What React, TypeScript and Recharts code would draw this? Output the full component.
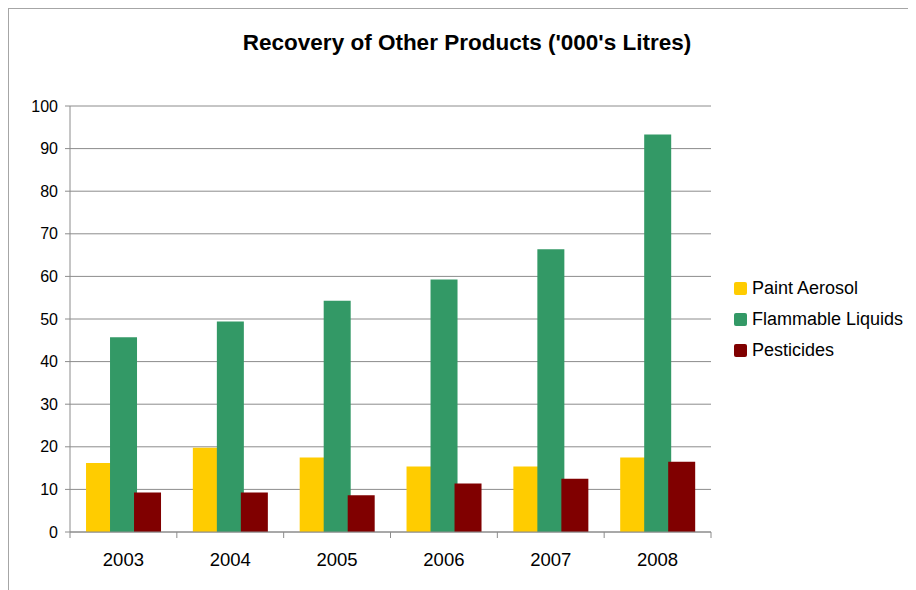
import { BarChart, Bar, XAxis, YAxis, CartesianGrid, Legend } from 'recharts';

const years = ['2003', '2004', '2005', '2006', '2007', '2008'];
const paintAerosol = [16.2, 19.8, 17.5, 15.4, 15.4, 17.5];
const flammableLiquids = [45.7, 49.4, 54.3, 59.3, 66.4, 93.3];
const pesticides = [9.3, 9.3, 8.6, 11.4, 12.5, 16.5];
const yTicks = [0, 10, 20, 30, 40, 50, 60, 70, 80, 90, 100];
const seriesOrder = ['Paint Aerosol', 'Flammable Liquids', 'Pesticides'];

const data = years.map((year, i) => ({
  year,
  paint: paintAerosol[i],
  flammable: flammableLiquids[i],
  pesticides: pesticides[i],
}));

const FONT = '"Liberation Sans", Arial, sans-serif';
const AXIS = '#8c8c8c';
const CHART_W = 907;
const CHART_H = 573;
const MARGIN = { top: 97, right: 5, bottom: 20, left: 0 };
const LEGEND_W = 200;
const Y_AXIS_W = 61;
const plotWidth = CHART_W - MARGIN.left - MARGIN.right - LEGEND_W - Y_AXIS_W;
const band = plotWidth / years.length;

const YearTick = (props: any) => {
  const { x, y, payload, index } = props;
  const last = index === years.length - 1;
  return (
    <g>
      <line x1={x - band / 2} y1={y} x2={x - band / 2} y2={y + 6} stroke={AXIS} />
      {last && <line x1={x + band / 2} y1={y} x2={x + band / 2} y2={y + 6} stroke={AXIS} />}
      <text x={x} y={y + 34} textAnchor="middle" fill="#000" fontSize={18.5} fontFamily={FONT}>
        {payload.value}
      </text>
    </g>
  );
};

const LegendBox = (props: any) => {
  const items = [...(props.payload || [])].sort(
    (a: any, b: any) => seriesOrder.indexOf(a.value) - seriesOrder.indexOf(b.value)
  );
  return (
    <div style={{ fontFamily: FONT, fontSize: 18, color: '#000', whiteSpace: 'nowrap' }}>
      {items.map((p: any) => (
        <div key={p.value} style={{ display: 'flex', alignItems: 'center', height: 31 }}>
          <span
            style={{
              display: 'inline-block',
              width: 13,
              height: 13,
              background: p.color,
              borderRadius: 2,
              marginRight: 5,
            }}
          />
          <span>{p.value}</span>
        </div>
      ))}
    </div>
  );
};

export default function App() {
  return (
    <div
      style={{
        position: 'relative',
        width: 908,
        height: 582,
        borderTop: '1px solid #a6a6a6',
        borderLeft: '1px solid #a6a6a6',
        boxSizing: 'border-box',
        background: '#fff',
      }}
    >
      <style>{'html, body { overflow: hidden; }'}</style>
      <div
        style={{
          position: 'absolute',
          left: 0,
          width: 916,
          top: 21,
          textAlign: 'center',
          fontFamily: FONT,
          fontWeight: 'bold',
          fontSize: 22.5,
          color: '#000',
          whiteSpace: 'nowrap',
        }}
      >
        Recovery of Other Products ('000's Litres)
      </div>
      <BarChart
        width={CHART_W}
        height={CHART_H}
        data={data}
        margin={MARGIN}
        barCategoryGap="15%"
        barGap={-3}
        style={{ overflow: 'visible' }}
      >
        <CartesianGrid vertical={false} stroke={AXIS} strokeWidth={1} />
        <XAxis
          dataKey="year"
          axisLine={{ stroke: AXIS }}
          tickLine={false}
          tickSize={0}
          tickMargin={0}
          tick={<YearTick />}
          height={30}
          interval={0}
        />
        <YAxis
          domain={[0, 100]}
          ticks={yTicks}
          width={Y_AXIS_W}
          axisLine={{ stroke: AXIS }}
          tickLine={{ stroke: AXIS }}
          tickSize={5}
          tickMargin={7}
          tick={{ fill: '#000', fontSize: 16, fontFamily: FONT }}
          interval={0}
        />
        <Legend
          layout="vertical"
          align="right"
          verticalAlign="middle"
          width={LEGEND_W}
          content={<LegendBox />}
          wrapperStyle={{ left: 725, top: 264, width: LEGEND_W }}
        />
        <Bar dataKey="paint" name="Paint Aerosol" fill="#ffcc00" isAnimationActive={false} />
        <Bar dataKey="flammable" name="Flammable Liquids" fill="#339966" isAnimationActive={false} />
        <Bar dataKey="pesticides" name="Pesticides" fill="#800000" isAnimationActive={false} />
      </BarChart>
    </div>
  );
}
